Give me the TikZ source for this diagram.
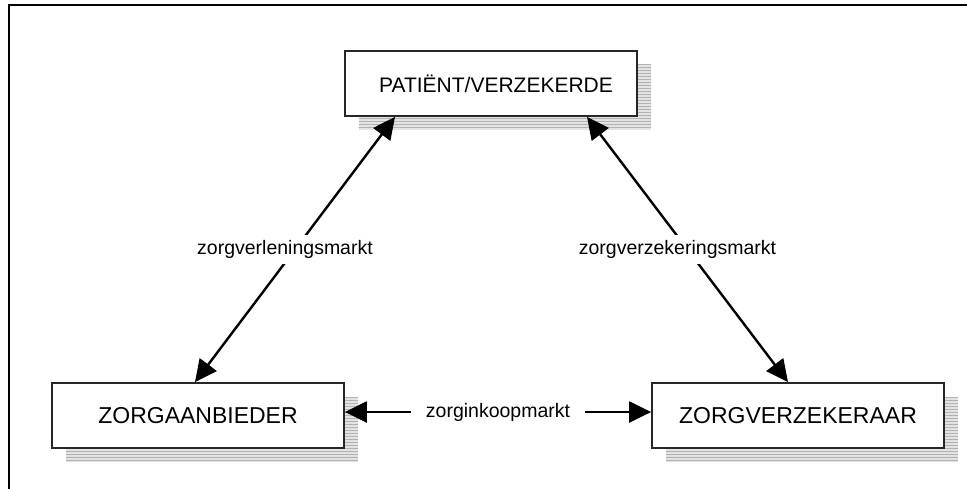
\documentclass[tikz,border=0pt]{standalone}
\usepackage{fontspec}
\setmainfont{Liberation Sans}
\usetikzlibrary{arrows.meta,patterns}
\tikzset{
  box/.style={draw=black!85, line width=1.8pt, fill=white, minimum width=292pt, minimum height=65pt, inner sep=0pt, font=\fontsize{23}{26}\selectfont},
  shadowbox/.style={fill=gray!22, draw=none, minimum width=292pt, minimum height=65pt, inner sep=0pt},
  conn/.style={line width=2.4pt, {Triangle[length=22pt,width=21pt]}-{Triangle[length=22pt,width=21pt]}},
  lbl/.style={fill=white, inner xsep=12pt, inner ysep=5pt, font=\fontsize{19.5}{22}\selectfont},
  frame/.style={line width=2pt, draw=black}
}
\begin{document}
\begin{tikzpicture}[x=1pt,y=-1pt]
\useasboundingbox (0,0) rectangle (967,488);
\draw[frame] (9,490) -- (9,5) -- (970,5);
% shadows
\node[shadowbox] (pts) at (505,97) {};
\node[shadowbox] (lbs) at (212,429) {};
\node[shadowbox] (rbs) at (812,429) {};
\fill[pattern=horizontal lines, pattern color=gray!60] (pts.north west) rectangle (pts.south east);
\fill[pattern=horizontal lines, pattern color=gray!60] (lbs.north west) rectangle (lbs.south east);
\fill[pattern=horizontal lines, pattern color=gray!60] (rbs.north west) rectangle (rbs.south east);
% boxes
\node[box, font=\fontsize{21}{24}\selectfont, text width=292pt, align=center] (pt) at (491,83.5) {\hspace*{10pt}PATIËNT/VERZEKERDE};
\node[box] (lb) at (198,415.5) {ZORGAANBIEDER};
\node[box] (rb) at (798,415.5) {ZORGVERZEKERAAR};
% connectors
\draw[conn] ([xshift=-96pt]pt.south) -- node[lbl, pos=0.5, xshift=-10pt] {zorgverleningsmarkt} ([xshift=-3pt]lb.north);
\draw[conn] ([xshift=96pt]pt.south) -- node[lbl, pos=0.5, xshift=-10pt] {zorgverzekeringsmarkt} ([xshift=-10pt]rb.north);
\draw[conn] ([yshift=3.5pt]lb.east) -- node[lbl, pos=0.5, inner xsep=15pt] {zorginkoopmarkt} ([yshift=3.5pt]rb.west);
\end{tikzpicture}
\end{document}
